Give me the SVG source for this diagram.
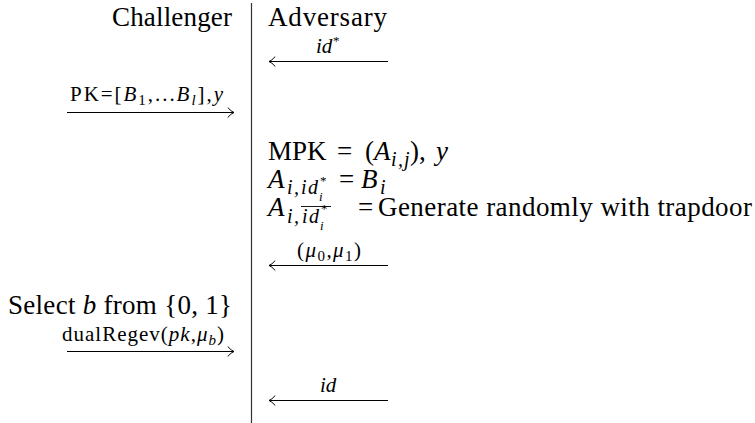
<svg xmlns="http://www.w3.org/2000/svg" width="755" height="423" viewBox="0 0 755 423" font-family="'Liberation Serif', 'Times New Roman', serif">
<defs>
<marker id="hook" markerUnits="userSpaceOnUse" markerWidth="12" markerHeight="12" refX="9" refY="6" orient="auto" viewBox="0 0 12 12">
<path d="M3,1.3 Q6.3,5.1 9,6 Q6.3,6.9 3,10.7" fill="none" stroke="#000" stroke-width="1" stroke-linecap="round"/>
</marker>
</defs>
<style>
text{font-family:"Liberation Serif","Times New Roman",serif;fill:#000}
.big{font-size:27px}
.sub{font-size:20px}
.ss{font-size:13px}
.lab{font-size:21px}
.it{font-style:italic}
.arr{stroke:#000;stroke-width:1;fill:none;marker-end:url(#hook)}
</style>
<rect width="755" height="423" fill="#fff"/>
<g id="divider"><line x1="251.5" y1="3" x2="251.5" y2="423" stroke="#333" stroke-width="1.2"/></g>
<g id="challenger"><text class="big" x="232" y="26" text-anchor="end" textLength="120" lengthAdjust="spacing">Challenger</text></g>
<g id="adversary"><text class="big" x="268" y="26" textLength="119" lengthAdjust="spacing">Adversary</text></g>
<g id="connectors">
<line class="arr" x1="388" y1="61.5" x2="269" y2="61.5"/>
<line class="arr" x1="67" y1="112.5" x2="234" y2="112.5"/>
<line class="arr" x1="388" y1="265.5" x2="269" y2="265.5"/>
<line class="arr" x1="67" y1="351.5" x2="234" y2="351.5"/>
<line class="arr" x1="388" y1="400.5" x2="269" y2="400.5"/>
</g>
<g id="labels">
<text class="lab it" x="316" y="53">id</text><text class="ss" x="333" y="45">*</text>
<text class="lab" x="70" y="101" textLength="153" lengthAdjust="spacing">PK=[<tspan class="it">B</tspan><tspan font-size="15" dy="4">1</tspan><tspan dy="-4">,...</tspan><tspan class="it">B</tspan><tspan class="it" font-size="15" dy="4">l</tspan><tspan dy="-4">],</tspan><tspan class="it">y</tspan></text>
<text class="lab" x="297" y="257" textLength="64" lengthAdjust="spacing">(<tspan class="it">μ</tspan><tspan font-size="15" dy="4">0</tspan><tspan dy="-4">,</tspan><tspan class="it">μ</tspan><tspan font-size="15" dy="4">1</tspan><tspan dy="-4">)</tspan></text>
<text class="lab" x="62" y="341" textLength="162" lengthAdjust="spacing">dualRegev(<tspan class="it">pk</tspan>,<tspan class="it">μ</tspan><tspan class="it" font-size="15" dy="4">b</tspan><tspan dy="-4">)</tspan></text>
<text class="lab it" x="320" y="392">id</text>
</g>
<g id="mpk">
<text class="big" x="268" y="160">MPK</text>
<text class="big" x="337" y="160">=</text>
<text class="big" x="365" y="160">(<tspan class="it">A</tspan></text>
<text class="sub it" x="391 398 404" y="166">i,j</text>
<text class="big" x="410" y="160">),</text>
<text class="big it" x="436" y="160">y</text>
</g>
<g id="aidstar">
<text class="big it" x="268" y="188">A</text>
<text class="sub it" x="287 294 301 308" y="194">i,id</text>
<text class="ss it" x="319" y="201">i</text>
<text class="ss" x="320" y="185">*</text>
<text class="big" x="339" y="188">=</text>
<text class="big it" x="361" y="188">B<tspan class="sub" x="380" dy="6">i</tspan></text>
</g>
<g id="aidbar">
<text class="big it" x="268" y="216">A</text>
<text class="sub it" x="287 294" y="223">i,</text>
<text class="sub it" x="302 309" y="223">id</text>
<text class="ss it" x="320" y="230">i</text>
<text class="ss" x="321" y="213">*</text>
<line x1="301" y1="206.5" x2="331" y2="206.5" stroke="#000" stroke-width="0.9"/>
<text class="big" x="358" y="216">=</text>
<text class="big" x="378" y="216" textLength="374" lengthAdjust="spacing">Generate randomly with trapdoor</text>
</g>
<g id="select"><text class="big" x="232" y="314" text-anchor="end" textLength="224" lengthAdjust="spacing">Select <tspan class="it">b</tspan> from {0, 1}</text></g>
</svg>
